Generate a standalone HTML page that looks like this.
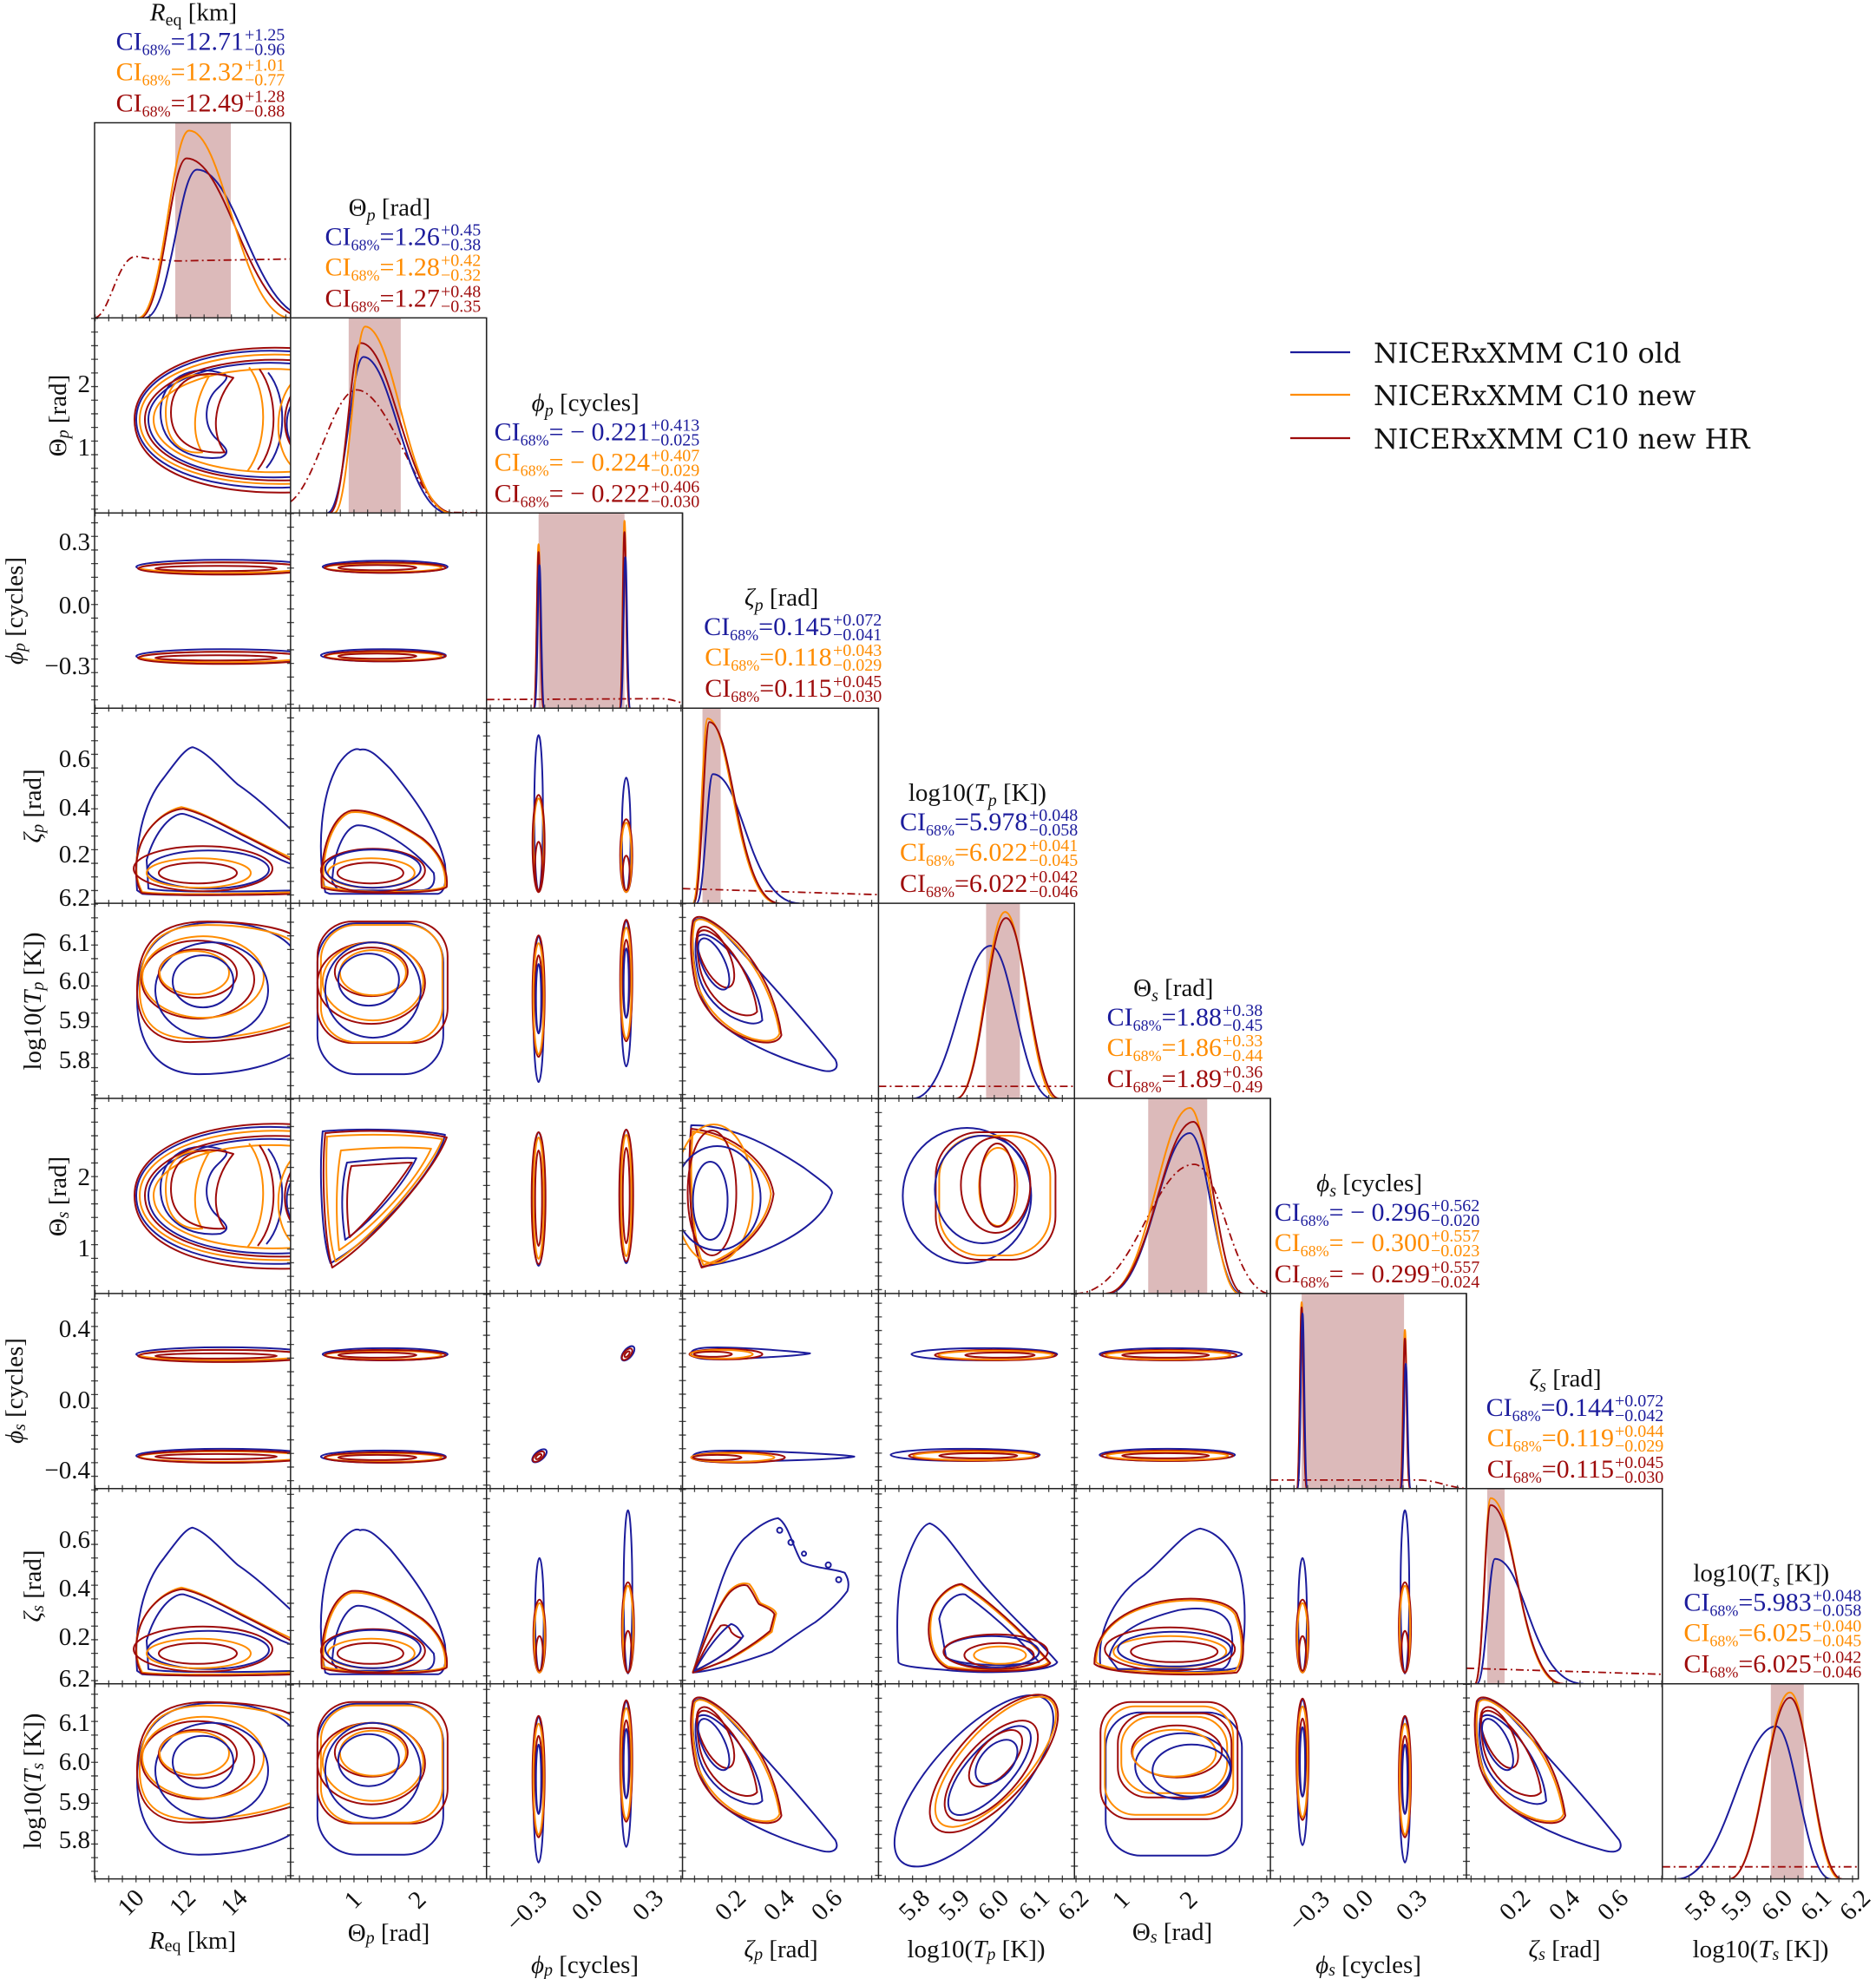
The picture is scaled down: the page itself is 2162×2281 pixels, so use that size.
<!DOCTYPE html>
<html><head><meta charset="utf-8"><style>
html,body{margin:0;padding:0;background:#fff;}
svg{display:block;}
.b,.o,.r,.p{fill:none;stroke-width:2;stroke-linejoin:round;}
.b{stroke:#1c1c9c;} .o{stroke:#ff8c00;} .r{stroke:#9e0b0b;}
.p{stroke:#9e0b0b;stroke-dasharray:9 4 2 4;stroke-width:1.8;}
.fr{fill:none;stroke:#222;stroke-width:1.5;}
.tk{stroke:#444;stroke-width:8;stroke-dasharray:1.3 14.4;}
.band{fill:#dcbaba;}
text{font-family:"Liberation Serif",serif;}
.ci{font-size:30px;}
.ss{font-size:20px;}
.t{font-size:29px;fill:#111;}
.tl{font-size:29px;fill:#111;}
.lg{font-family:"DejaVu Serif","Liberation Serif",serif;font-size:32px;fill:#111;}
</style></head><body>
<svg width="2162" height="2281" viewBox="0 0 2162 2281" xmlns="http://www.w3.org/2000/svg">
<defs>
<clipPath id="cp"><rect x="0" y="0" width="226" height="225"/></clipPath>
<g id="kid">
 <path class="b" d="M232,34 C130,26 48,60 48,112 C48,166 130,196 232,190"/>
 <path class="b" d="M232,48 C135,40 62,72 62,112 C62,156 135,184 232,178"/>
 <path class="b" d="M150,60 C110,46 76,66 76,104 C76,142 110,160 145,156 C160,150 148,142 138,132 C124,115 128,90 140,78 C148,70 156,64 150,60 Z"/>
 <path class="b" d="M200,58 C222,85 222,140 198,168"/>
 <path class="b" d="M232,90 C218,100 218,135 232,145"/>
 <path class="o" d="M232,38 C130,32 52,64 52,112 C52,162 130,190 232,186"/>
 <path class="o" d="M232,55 C140,48 68,76 68,112 C68,152 140,178 232,172"/>
 <path class="o" d="M132,62 C100,56 82,72 82,104 C82,138 100,152 124,150 C112,130 112,96 132,62 Z"/>
 <path class="o" d="M178,52 C200,80 200,140 176,172"/>
 <path class="o" d="M232,65 C205,90 205,150 232,170"/>
 <path class="r" d="M232,30 C125,24 46,58 46,112 C46,170 125,200 232,196"/>
 <path class="r" d="M232,44 C132,38 58,70 58,112 C58,158 132,186 232,182"/>
 <path class="r" d="M160,64 C115,50 88,70 88,104 C88,138 115,152 150,150 C135,130 135,95 160,64 Z"/>
 <path class="r" d="M190,54 C212,85 212,140 188,170"/>
 <path class="r" d="M232,75 C215,100 215,130 232,150"/>
</g>
<g id="zr">
 <path class="b" d="M49,210 C45,160 55,110 80,80 C95,60 105,46 113,45 C130,50 150,75 165,88 C190,105 210,125 232,145 L232,214 C150,216 80,216 55,214 Z"/>
 <path class="b" d="M60,175 C70,140 90,120 103,122 C125,128 165,150 215,175 L232,182 L232,210 C150,212 80,212 62,208 Z"/>
 <path class="o" d="M49,170 C55,140 80,118 100,114 C120,118 140,130 165,142 C190,155 210,165 232,175 L232,212 C150,215 80,215 55,212 C48,200 47,185 49,170 Z"/>
 <path class="r" d="M50,168 C56,138 82,117 102,116 C122,120 145,133 170,146 C195,158 212,168 232,178 L232,214 C150,216 80,216 54,213 C47,200 46,185 50,168 Z"/>
 <ellipse class="b" cx="131" cy="186" rx="70" ry="22"/>
 <ellipse class="o" cx="120" cy="190" rx="60" ry="17"/>
 <ellipse class="r" cx="125" cy="185" rx="80" ry="26"/>
 <ellipse class="r" cx="119" cy="190" rx="45" ry="12"/>
</g>
<g id="zt">
 <path class="b" d="M40,212 C30,160 35,100 55,65 C65,50 75,45 80,48 C90,45 100,55 115,70 C140,100 170,140 178,180 C180,200 178,212 170,214 L45,214 Z"/>
 <path class="b" d="M48,200 C50,160 65,135 78,135 C100,135 140,160 165,190 C168,205 160,210 150,210 L55,210 Z"/>
 <path class="o" d="M38,205 C35,165 50,125 70,120 C90,118 120,130 150,150 C170,165 180,185 178,205 C170,214 60,214 38,205 Z"/>
 <path class="r" d="M36,207 C33,165 48,123 70,118 C92,116 122,130 152,150 C172,166 182,186 180,206 C172,215 60,215 36,207 Z"/>
 <ellipse class="r" cx="95" cy="187" rx="60" ry="25"/>
 <ellipse class="o" cx="93" cy="190" rx="50" ry="17"/>
 <ellipse class="r" cx="92" cy="190" rx="38" ry="12"/>
 <ellipse class="b" cx="95" cy="185" rx="55" ry="22"/>
</g>
<g id="zts">
 <path class="b" d="M30,205 C25,160 50,120 80,100 C105,80 125,50 145,46 C165,50 185,70 192,102 C200,140 195,190 190,205 C180,214 50,214 30,205 Z"/>
 <path class="o" d="M25,200 C25,160 60,140 100,132 C140,125 175,130 185,145 C195,170 195,200 185,210 C150,214 40,214 25,200 Z"/>
 <path class="r" d="M23,202 C23,160 60,138 100,130 C140,123 177,128 187,144 C197,170 197,202 187,212 C150,216 40,216 23,202 Z"/>
 <path class="b" d="M40,195 C45,165 80,150 120,140 C150,135 175,140 180,160 C185,185 180,205 170,208 L50,208 Z"/>
 <ellipse class="r" cx="110" cy="185" rx="75" ry="25"/>
 <ellipse class="o" cx="110" cy="188" rx="65" ry="18"/>
 <ellipse class="r" cx="115" cy="188" rx="50" ry="12"/>
 <ellipse class="b" cx="115" cy="185" rx="65" ry="20"/>
</g>
<g id="ztl">
 <path class="b" d="M23,200 C20,150 22,110 30,90 C40,60 50,42 59,40 C75,45 95,80 120,110 C150,145 185,175 206,200 C200,212 120,214 77,209 C50,207 25,205 23,200 Z"/>
 <path class="o" d="M61,147 C65,125 85,112 95,111 C120,125 165,165 196,200 C190,210 120,212 80,205 C60,195 58,165 61,147 Z"/>
 <path class="r" d="M59,149 C63,126 84,110 96,110 C122,124 168,166 198,201 C192,211 120,213 80,207 C58,197 56,166 59,149 Z"/>
 <path class="b" d="M70,150 C75,130 90,120 100,122 C125,140 160,170 185,200 C150,205 100,205 78,195 Z"/>
 <ellipse class="r" cx="139" cy="192" rx="40" ry="14"/>
 <ellipse class="o" cx="140" cy="192" rx="30" ry="10"/>
 <ellipse class="b" cx="130" cy="188" rx="55" ry="18"/>
 <ellipse class="r" cx="135" cy="188" rx="60" ry="20"/>
</g>
<g id="tr">
 <path class="b" d="M49,110 C49,40 90,22 140,22 C190,22 226,40 232,60 L232,170 C210,185 170,197 120,197 C70,197 49,160 49,110 Z"/>
 <path class="r" d="M49,100 C49,40 80,21 130,21 C180,21 226,30 232,40 L232,140 C200,150 160,160 110,160 C70,160 49,140 49,100 Z"/>
 <path class="o" d="M52,100 C52,42 82,25 130,25 C180,25 222,35 232,48 L232,135 C200,148 160,156 112,156 C72,156 52,138 52,100 Z"/>
 <ellipse class="r" cx="119" cy="88" rx="65" ry="45"/>
 <ellipse class="o" cx="125" cy="85" rx="70" ry="47"/>
 <ellipse class="b" cx="135" cy="100" rx="65" ry="55"/>
 <ellipse class="r" cx="119" cy="81" rx="45" ry="28"/>
 <ellipse class="o" cx="115" cy="80" rx="40" ry="25"/>
 <ellipse class="b" cx="125" cy="90" rx="35" ry="30"/>
</g>
<g id="tt">
 <rect class="b" x="31" y="23" width="145" height="174" rx="45"/>
 <rect class="r" x="31" y="21" width="150" height="140" rx="40"/>
 <rect class="o" x="35" y="25" width="140" height="135" rx="40"/>
 <ellipse class="r" cx="93" cy="92" rx="62" ry="47"/>
 <ellipse class="o" cx="95" cy="90" rx="58" ry="45"/>
 <ellipse class="b" cx="95" cy="100" rx="55" ry="55"/>
 <ellipse class="r" cx="93" cy="79" rx="42" ry="28"/>
 <ellipse class="o" cx="95" cy="80" rx="38" ry="26"/>
 <ellipse class="b" cx="90" cy="88" rx="35" ry="30"/>
</g>
<g id="tt5">
 <rect class="b" x="36" y="33" width="157" height="165" rx="40"/>
 <rect class="r" x="30" y="21" width="158" height="135" rx="35"/>
 <rect class="o" x="35" y="26" width="148" height="125" rx="35"/>
 <rect class="r" x="50" y="34" width="131" height="97" rx="35"/>
 <rect class="o" x="54" y="38" width="122" height="88" rx="35"/>
 <ellipse class="b" cx="125" cy="95" rx="55" ry="38"/>
 <ellipse class="r" cx="118" cy="78" rx="52" ry="30"/>
 <ellipse class="o" cx="115" cy="80" rx="48" ry="27"/>
 <ellipse class="b" cx="135" cy="100" rx="45" ry="30"/>
</g>
<g id="tz">
 <path class="b" d="M12,25 C15,10 35,20 55,42 C95,85 140,135 176,180 C182,192 172,196 158,192 C120,182 70,162 40,135 C18,115 10,70 12,25 Z"/>
 <path class="o" d="M14,22 C20,12 40,25 62,48 C88,76 105,110 112,150 C108,160 95,160 80,156 C50,146 26,122 17,92 C11,65 10,42 14,22 Z"/>
 <path class="r" d="M12,20 C18,8 40,22 64,46 C90,74 108,110 114,152 C110,162 95,162 80,158 C48,148 24,124 15,94 C9,66 8,42 12,20 Z"/>
 <path class="b" d="M16,40 C24,30 40,40 60,62 C78,85 90,110 92,135 C85,142 70,138 55,130 C35,118 22,100 18,80 C15,65 14,52 16,40 Z"/>
 <path class="r" d="M18,35 C24,25 40,35 58,58 C74,80 84,105 86,125 C80,132 66,130 52,122 C34,110 24,92 20,75 C17,60 16,47 18,35 Z"/>
 <ellipse class="r" cx="38" cy="62" rx="16" ry="38" transform="rotate(-25 38 62)"/>
 <ellipse class="b" cx="36" cy="70" rx="13" ry="32" transform="rotate(-25 36 70)"/>
</g>
<g id="td">
 <ellipse class="b" cx="110" cy="112" rx="125" ry="50" transform="rotate(-48 110 112)"/>
 <ellipse class="r" cx="133" cy="92" rx="100" ry="42" transform="rotate(-48 133 92)"/>
 <ellipse class="o" cx="135" cy="90" rx="95" ry="38" transform="rotate(-48 135 90)"/>
 <ellipse class="r" cx="130" cy="100" rx="72" ry="32" transform="rotate(-48 130 100)"/>
 <ellipse class="b" cx="128" cy="100" rx="65" ry="26" transform="rotate(-48 128 100)"/>
 <ellipse class="r" cx="135" cy="86" rx="40" ry="20" transform="rotate(-48 135 86)"/>
 <ellipse class="b" cx="136" cy="90" rx="30" ry="18" transform="rotate(-48 136 90)"/>
</g>
<g id="tri">
 <path class="b" d="M37,38 C80,34 150,36 178,42 C170,80 100,160 46,190 C35,160 33,80 37,38 Z"/>
 <path class="r" d="M40,40 C90,35 150,38 180,45 C165,85 95,165 48,195 C38,160 36,80 40,40 Z"/>
 <path class="o" d="M42,44 C90,40 145,42 175,47 C160,85 95,160 52,188 C42,160 40,85 42,44 Z"/>
 <path class="b" d="M65,74 C100,70 130,68 145,69 C130,100 95,140 63,163 C58,130 58,100 65,74 Z"/>
 <path class="r" d="M70,78 C100,76 130,74 140,74 C120,105 90,140 68,160 C64,130 64,100 70,78 Z"/>
 <path class="o" d="M58,60 C100,56 140,56 162,58 C145,95 100,145 56,175 C52,140 52,95 58,60 Z"/>
</g>
<g id="dsh">
 <path class="b" d="M10,31 C60,30 110,60 140,80 C160,95 175,105 172,110 C160,150 90,185 22,194 C8,160 6,80 10,31 Z"/>
 <path class="r" d="M10,35 C60,40 100,75 105,110 C100,150 60,185 22,195 C8,160 6,80 10,35 Z"/>
 <path class="o" d="M12,38 C60,44 98,78 102,110 C98,148 60,182 24,192 C10,160 8,80 12,38 Z"/>
 <ellipse class="r" cx="34" cy="109" rx="28" ry="72"/>
 <ellipse class="o" cx="36" cy="110" rx="45" ry="80"/>
 <ellipse class="b" cx="40" cy="115" rx="50" ry="60"/>
 <ellipse class="b" cx="32" cy="118" rx="20" ry="45"/>
</g>
<g id="ov">
 <ellipse class="b" cx="102" cy="112" rx="74" ry="78"/>
 <rect class="r" x="66" y="39" width="138" height="147" rx="50"/>
 <rect class="o" x="70" y="43" width="128" height="138" rx="48"/>
 <ellipse class="b" cx="120" cy="105" rx="55" ry="62"/>
 <ellipse class="r" cx="135" cy="100" rx="40" ry="55"/>
 <ellipse class="o" cx="138" cy="102" rx="22" ry="45"/>
 <ellipse class="r" cx="137" cy="100" rx="20" ry="48"/>
</g>
<g id="szl">
 <ellipse class="b" cx="0" cy="121" rx="5" ry="90"/>
 <ellipse class="o" cx="0" cy="158" rx="6" ry="54"/>
 <ellipse class="r" cx="0" cy="156" rx="7" ry="56"/>
 <ellipse class="r" cx="0" cy="182" rx="4" ry="28"/>
</g>
<g id="szs">
 <ellipse class="b" cx="0" cy="146" rx="5" ry="66"/>
 <ellipse class="r" cx="0" cy="170" rx="7" ry="42"/>
 <ellipse class="o" cx="0" cy="172" rx="6" ry="40"/>
 <ellipse class="r" cx="0" cy="190" rx="4" ry="20"/>
</g>
<g id="szt">
 <ellipse class="b" cx="0" cy="119" rx="5" ry="94"/>
 <ellipse class="r" cx="0" cy="160" rx="7" ry="52"/>
 <ellipse class="o" cx="0" cy="162" rx="6" ry="50"/>
 <ellipse class="r" cx="0" cy="188" rx="4" ry="24"/>
</g>
<g id="st">
 <ellipse class="b" cx="0" cy="122" rx="6" ry="84"/>
 <ellipse class="r" cx="0" cy="107" rx="7" ry="70"/>
 <ellipse class="o" cx="0" cy="110" rx="6" ry="64"/>
 <ellipse class="r" cx="0" cy="105" rx="4" ry="45"/>
 <ellipse class="b" cx="0" cy="110" rx="3" ry="40"/>
</g>
<g id="sth">
 <ellipse class="b" cx="0" cy="116" rx="7" ry="77"/>
 <ellipse class="r" cx="0" cy="115" rx="8" ry="76"/>
 <ellipse class="o" cx="0" cy="115" rx="6" ry="70"/>
 <ellipse class="r" cx="0" cy="115" rx="4" ry="55"/>
</g>
</defs>

<rect width="2162" height="2281" fill="#fff"/>

<!-- ============ DIAGONALS ============ -->
<g transform="translate(109,141.5)" clip-path="url(#cp)">
 <rect class="band" x="93" y="0" width="64" height="225"/>
 <path class="p" d="M0,225 C18,222 26,154 48,154 C70,158 90,160 110,159 L226,157"/>
 <path class="b" d="M58,225 C88,225 97,54 118,54 C165.2,54 184,225 250,225"/>
 <path class="r" d="M52,225 C79,225 87.1,41 106,41 C154.65,41 175.5,225 245,225"/>
 <path class="o" d="M50,225 C79.5,225 88.35,9 109,9 C149.95,9 168,225 226,225"/>
</g>
<g transform="translate(334.85,366.4)" clip-path="url(#cp)">
 <rect class="band" x="67" y="0" width="60" height="225"/>
 <path class="p" d="M0,212 C30,190 50,83 76,83 C110,83 140,195 175,224 L226,225"/>
 <path class="b" d="M42,225 C63,225 69.3,45 84,45 C117.6,45 133,225 182,225"/>
 <path class="r" d="M45,225 C63,225 68.4,29 81,29 C118.45,29 134.5,225 188,225"/>
 <path class="o" d="M50,225 C68,225 73.4,10 86,10 C120.65,10 135.5,225 185,225"/>
</g>
<g transform="translate(560.7,591.3)" clip-path="url(#cp)">
 <rect class="band" x="60" y="0" width="99" height="225"/>
 <path class="p" d="M0,215 L200,214 C212,214 218,217 226,219"/>
 <path class="o" d="M54,225 C58,225 58,36 60,36 C62,36 62,225 66,225"/>
 <path class="r" d="M54,225 C58,225 58,45 60,45 C62,45 62,225 66,225"/>
 <path class="b" d="M55,225 C59,225 59,60 61,60 C63,60 63,225 67,225"/>
 <path class="o" d="M153,225 C157,225 157,9 159,9 C161,9 161,225 165,225"/>
 <path class="r" d="M153,225 C157,225 157,22 159,22 C161,22 161,225 165,225"/>
 <path class="b" d="M154,225 C158,225 158,51 160,51 C162,51 162,225 166,225"/>
</g>
<g transform="translate(786.55,816.2)" clip-path="url(#cp)">
 <rect class="band" x="23" y="0" width="21" height="225"/>
 <path class="p" d="M0,208 L226,215"/>
 <path class="b" d="M16,225 C25.5,225 28.35,76 35,76 C70,76 75.5,225 135,225"/>
 <path class="o" d="M12,225 C20.5,225 23.05,12 29,12 C56.65,12 61,225 110,225"/>
 <path class="r" d="M13,225 C22,225 24.7,16 31,16 C58.65,16 62.5,225 112,225"/>
</g>
<g transform="translate(1012.4,1041.1)" clip-path="url(#cp)">
 <rect class="band" x="124" y="0" width="39" height="225"/>
 <path class="p" d="M0,211 L226,211"/>
 <path class="b" d="M40,225 C84.5,225 97.85,49 129,49 C154.2,49 164,225 200,225"/>
 <path class="o" d="M90,225 C118,225 126.4,10 146,10 C166.65,10 177.5,225 205,225"/>
 <path class="r" d="M90,225 C118.5,225 127,17 147,17 C168,17 179,225 208,225"/>
</g>
<g transform="translate(1238.25,1266)" clip-path="url(#cp)">
 <rect class="band" x="85" y="0" width="68" height="225"/>
 <path class="p" d="M1,225 C69.5,225 90,76 138,76 C169,76 182,225 226,225"/>
 <path class="b" d="M38,225 C85.5,225 99.75,40 133,40 C153.3,40 163,225 192,225"/>
 <path class="o" d="M37,225 C85,225 99.4,11 133,11 C153.15,11 161.5,225 190,225"/>
 <path class="r" d="M36,225 C86.5,225 101.65,27 137,27 C157.3,27 166,225 195,225"/>
</g>
<g transform="translate(1464.1,1490.9)" clip-path="url(#cp)">
 <rect class="band" x="36" y="0" width="118" height="225"/>
 <path class="p" d="M0,215 L170,215 C190,215 200,222 226,225"/>
 <path class="o" d="M30,225 C34,225 34,10 36,10 C38,10 38,225 42,225"/>
 <path class="r" d="M30,225 C34,225 34,16 36,16 C38,16 38,225 42,225"/>
 <path class="b" d="M31,225 C35,225 35,23 37,23 C39,23 39,225 43,225"/>
 <path class="o" d="M149,225 C153,225 153,42 155,42 C157,42 157,225 161,225"/>
 <path class="r" d="M149,225 C153,225 153,52 155,52 C157,52 157,225 161,225"/>
 <path class="b" d="M150,225 C154,225 154,81 156,81 C158,81 158,225 162,225"/>
</g>
<g transform="translate(1689.95,1715.8)" clip-path="url(#cp)">
 <rect class="band" x="24" y="0" width="20" height="225"/>
 <path class="p" d="M0,207 L226,214"/>
 <path class="b" d="M12,225 C22.5,225 25.65,81 33,81 C68.7,81 73.5,225 135,225"/>
 <path class="o" d="M10,225 C19,225 21.7,11 28,11 C56.7,11 60,225 110,225"/>
 <path class="r" d="M10,225 C19,225 21.7,19 28,19 C57.4,19 61,225 112,225"/>
</g>
<g transform="translate(1915.8,1940.7)" clip-path="url(#cp)">
 <rect class="band" x="125" y="0" width="38" height="225"/>
 <path class="p" d="M0,211 L226,211"/>
 <path class="b" d="M17,225 C74,225 91.1,49 131,49 C152.7,49 163.5,225 194,225"/>
 <path class="o" d="M77,225 C112,225 122.5,10 147,10 C167.3,10 176,225 205,225"/>
 <path class="r" d="M77,225 C112,225 122.5,16 147,16 C168,16 177,225 207,225"/>
</g>

<!-- ============ OFF-DIAGONALS ============ -->
<g transform="translate(109,366.4)" clip-path="url(#cp)"><use href="#kid" transform="translate(0,5)"/></g>
<g transform="translate(109,591.3)" clip-path="url(#cp)">
 <ellipse class="b" cx="150" cy="62" rx="102" ry="8"/><ellipse class="o" cx="148" cy="63" rx="96" ry="6"/><ellipse class="r" cx="150" cy="64" rx="100" ry="7"/><ellipse class="r" cx="140" cy="64" rx="70" ry="3"/>
 <ellipse class="b" cx="150" cy="165" rx="102" ry="8"/><ellipse class="o" cx="148" cy="166" rx="96" ry="6"/><ellipse class="r" cx="150" cy="167" rx="100" ry="7"/><ellipse class="r" cx="140" cy="167" rx="70" ry="3"/>
</g>
<g transform="translate(334.85,591.3)" clip-path="url(#cp)">
 <ellipse class="b" cx="109" cy="62" rx="72" ry="7"/><ellipse class="o" cx="107" cy="63" rx="67" ry="5"/><ellipse class="r" cx="109" cy="63" rx="70" ry="6"/><ellipse class="r" cx="100" cy="63" rx="45" ry="3"/>
 <ellipse class="b" cx="107" cy="164" rx="72" ry="7"/><ellipse class="o" cx="107" cy="165" rx="67" ry="5"/><ellipse class="r" cx="109" cy="165" rx="70" ry="6"/><ellipse class="r" cx="100" cy="165" rx="45" ry="3"/>
</g>
<g transform="translate(109,816.2)" clip-path="url(#cp)"><use href="#zr"/></g>
<g transform="translate(334.85,816.2)" clip-path="url(#cp)"><use href="#zt"/></g>
<g transform="translate(560.7,816.2)" clip-path="url(#cp)"><use href="#szl" transform="translate(60,0)"/><use href="#szs" transform="translate(161,0)"/></g>
<g transform="translate(109,1041.1)" clip-path="url(#cp)"><use href="#tr"/></g>
<g transform="translate(334.85,1041.1)" clip-path="url(#cp)"><use href="#tt"/></g>
<g transform="translate(560.7,1041.1)" clip-path="url(#cp)"><use href="#st" transform="translate(60,0)"/><use href="#st" transform="translate(161,-18)"/></g>
<g transform="translate(786.55,1041.1)" clip-path="url(#cp)"><use href="#tz"/></g>
<g transform="translate(109,1266)" clip-path="url(#cp)"><use href="#kid"/></g>
<g transform="translate(334.85,1266)" clip-path="url(#cp)"><use href="#tri"/></g>
<g transform="translate(560.7,1266)" clip-path="url(#cp)"><use href="#sth" transform="translate(60,0)"/><use href="#sth" transform="translate(161,-3)"/></g>
<g transform="translate(786.55,1266)" clip-path="url(#cp)"><use href="#dsh"/></g>
<g transform="translate(1012.4,1266)" clip-path="url(#cp)"><use href="#ov"/></g>
<g transform="translate(109,1490.9)" clip-path="url(#cp)">
 <ellipse class="b" cx="150" cy="70" rx="102" ry="8"/><ellipse class="o" cx="148" cy="71" rx="96" ry="6"/><ellipse class="r" cx="150" cy="72" rx="100" ry="7"/><ellipse class="r" cx="140" cy="72" rx="70" ry="3"/>
 <ellipse class="b" cx="150" cy="187" rx="102" ry="8"/><ellipse class="o" cx="148" cy="188" rx="96" ry="6"/><ellipse class="r" cx="150" cy="188" rx="100" ry="7"/><ellipse class="r" cx="140" cy="188" rx="70" ry="3"/>
</g>
<g transform="translate(334.85,1490.9)" clip-path="url(#cp)">
 <ellipse class="b" cx="109" cy="70" rx="72" ry="7"/><ellipse class="o" cx="107" cy="71" rx="67" ry="5"/><ellipse class="r" cx="109" cy="71" rx="70" ry="6"/><ellipse class="r" cx="100" cy="71" rx="45" ry="3"/>
 <ellipse class="b" cx="107" cy="188" rx="72" ry="7"/><ellipse class="o" cx="107" cy="189" rx="67" ry="5"/><ellipse class="r" cx="109" cy="189" rx="70" ry="6"/><ellipse class="r" cx="100" cy="189" rx="45" ry="3"/>
</g>
<g transform="translate(560.7,1490.9)" clip-path="url(#cp)">
 <ellipse class="b" cx="163" cy="69" rx="10" ry="5" transform="rotate(-50 163 69)"/><ellipse class="r" cx="162" cy="70" rx="8" ry="4" transform="rotate(-50 162 70)"/><ellipse class="r" cx="162" cy="70" rx="4" ry="2" transform="rotate(-50 162 70)"/>
 <ellipse class="b" cx="61" cy="187" rx="10" ry="5" transform="rotate(-40 61 187)"/><ellipse class="r" cx="60" cy="188" rx="8" ry="4" transform="rotate(-40 60 188)"/><ellipse class="r" cx="60" cy="188" rx="4" ry="2" transform="rotate(-40 60 188)"/>
</g>
<g transform="translate(786.55,1490.9)" clip-path="url(#cp)">
 <path class="b" d="M10,69 C10,62 30,61 70,63 C110,65 140,68 147,69 C140,71 110,73 70,75 C30,77 10,76 10,69 Z"/>
 <ellipse class="r" cx="50" cy="70" rx="42" ry="6"/><ellipse class="o" cx="45" cy="70" rx="36" ry="5"/><ellipse class="r" cx="35" cy="70" rx="22" ry="3"/>
 <path class="b" d="M12,188 C12,181 40,180 100,182 C150,184 190,186 198,188 C190,190 150,192 100,193 C40,195 12,195 12,188 Z"/>
 <ellipse class="r" cx="64" cy="189" rx="54" ry="6"/><ellipse class="o" cx="58" cy="189" rx="48" ry="5"/><ellipse class="r" cx="40" cy="189" rx="28" ry="3"/>
</g>
<g transform="translate(1012.4,1490.9)" clip-path="url(#cp)">
 <ellipse class="b" cx="122" cy="70" rx="84" ry="7"/><ellipse class="r" cx="135" cy="71" rx="70" ry="6"/><ellipse class="o" cx="135" cy="71" rx="66" ry="5"/><ellipse class="r" cx="140" cy="71" rx="40" ry="3"/>
 <ellipse class="b" cx="100" cy="186" rx="86" ry="7"/><ellipse class="r" cx="110" cy="187" rx="75" ry="6"/><ellipse class="o" cx="110" cy="187" rx="70" ry="5"/><ellipse class="r" cx="115" cy="187" rx="45" ry="3"/>
</g>
<g transform="translate(1238.25,1490.9)" clip-path="url(#cp)">
 <ellipse class="b" cx="111" cy="70" rx="82" ry="7"/><ellipse class="r" cx="109" cy="71" rx="78" ry="6"/><ellipse class="o" cx="108" cy="71" rx="72" ry="5"/><ellipse class="r" cx="105" cy="71" rx="50" ry="3"/>
 <ellipse class="b" cx="107" cy="186" rx="78" ry="7"/><ellipse class="r" cx="107" cy="187" rx="76" ry="6"/><ellipse class="o" cx="107" cy="187" rx="70" ry="5"/><ellipse class="r" cx="105" cy="187" rx="50" ry="3"/>
</g>
<g transform="translate(109,1715.8)" clip-path="url(#cp)"><use href="#zr"/></g>
<g transform="translate(334.85,1715.8)" clip-path="url(#cp)"><use href="#zt"/></g>
<g transform="translate(560.7,1715.8)" clip-path="url(#cp)"><use href="#szs" transform="translate(61,0)"/><use href="#szt" transform="translate(163,0)"/></g>
<g transform="translate(786.55,1715.8)" clip-path="url(#cp)">
 <path class="b" d="M12,212 C25,170 38,125 47,101 C55,80 65,62 73,56 C85,45 98,36 110,34 C122,40 128,70 137,84 C150,92 175,92 187,97 C192,105 192,112 190,118 C180,132 165,145 153,154 C135,165 118,178 103,188 C70,200 35,210 12,212 Z"/>
 <circle class="b" cx="112" cy="48" r="3"/><circle class="b" cx="125" cy="62" r="3"/><circle class="b" cx="140" cy="75" r="2.5"/><circle class="b" cx="168" cy="88" r="3"/><circle class="b" cx="180" cy="105" r="3"/>
 <path class="o" d="M12,211 C25,175 40,135 54,118 C62,110 70,108 77,110 C84,118 86,128 90,132 C98,136 106,138 108,144 C106,152 104,160 103,165 C90,175 70,188 54,197 C35,204 20,209 12,211 Z"/>
 <path class="r" d="M12,212 C25,176 40,136 54,120 C62,112 70,110 75,112 C82,120 84,128 88,133 C96,137 104,140 106,145 C104,153 102,160 101,164 C88,175 68,188 52,197 C34,204 20,210 12,212 Z"/>
 <path class="r" d="M14,210 C22,190 34,170 44,158 C50,156 54,158 56,165 C60,170 66,172 68,172 C62,182 40,198 14,210 Z"/>
 <path class="b" d="M14,210 C26,188 42,166 56,156 C64,158 66,165 70,170 C60,184 36,200 14,210 Z"/>
</g>
<g transform="translate(1012.4,1715.8)" clip-path="url(#cp)"><use href="#ztl"/></g>
<g transform="translate(1238.25,1715.8)" clip-path="url(#cp)"><use href="#zts"/></g>
<g transform="translate(1464.1,1715.8)" clip-path="url(#cp)"><use href="#szs" transform="translate(37,0)"/><use href="#szt" transform="translate(155,0)"/></g>
<g transform="translate(109,1940.7)" clip-path="url(#cp)"><use href="#tr"/></g>
<g transform="translate(334.85,1940.7)" clip-path="url(#cp)"><use href="#tt"/></g>
<g transform="translate(560.7,1940.7)" clip-path="url(#cp)"><use href="#st" transform="translate(60,0)"/><use href="#st" transform="translate(161,-18)"/></g>
<g transform="translate(786.55,1940.7)" clip-path="url(#cp)"><use href="#tz"/></g>
<g transform="translate(1012.4,1940.7)" clip-path="url(#cp)"><use href="#td"/></g>
<g transform="translate(1238.25,1940.7)" clip-path="url(#cp)"><use href="#tt5"/></g>
<g transform="translate(1464.1,1940.7)" clip-path="url(#cp)"><use href="#st" transform="translate(37,-20)"/><use href="#st" transform="translate(155,0)"/></g>
<g transform="translate(1689.95,1940.7)" clip-path="url(#cp)"><use href="#tz"/></g>

<!-- ============ FRAMES + TICKS ============ -->
<g>
<line class="tk" x1="109" y1="366.4" x2="335" y2="366.4"/>
<line class="tk" x1="109" y1="591.3" x2="561" y2="591.3"/>
<line class="tk" x1="109" y1="816.2" x2="787" y2="816.2"/>
<line class="tk" x1="109" y1="1041.1" x2="1012" y2="1041.1"/>
<line class="tk" x1="109" y1="1266" x2="1238" y2="1266"/>
<line class="tk" x1="109" y1="1490.9" x2="1464" y2="1490.9"/>
<line class="tk" x1="109" y1="1715.8" x2="1690" y2="1715.8"/>
<line class="tk" x1="109" y1="1940.7" x2="1916" y2="1940.7"/>
<line class="tk" x1="109" y1="2165.6" x2="2142" y2="2165.6"/>
<line class="tk" x1="109" y1="366.4" x2="109" y2="2165.6"/>
<line class="tk" x1="334.85" y1="591.3" x2="334.85" y2="2165.6"/>
<line class="tk" x1="560.7" y1="816.2" x2="560.7" y2="2165.6"/>
<line class="tk" x1="786.55" y1="1041.1" x2="786.55" y2="2165.6"/>
<line class="tk" x1="1012.4" y1="1266" x2="1012.4" y2="2165.6"/>
<line class="tk" x1="1238.25" y1="1490.9" x2="1238.25" y2="2165.6"/>
<line class="tk" x1="1464.1" y1="1715.8" x2="1464.1" y2="2165.6"/>
<line class="tk" x1="1689.95" y1="1940.7" x2="1689.95" y2="2165.6"/>
<path class="fr" d="M109,141.5 H334.85 V366.4 H560.7 V591.3 H786.55 V816.2 H1012.4 V1041.1 H1238.25 V1266 H1464.1 V1490.9 H1689.95 V1715.8 H1915.8 V1940.7 H2141.65 V2165.6 H109 Z"/>
<path class="fr" d="M109,366.4 H334.85 M109,591.3 H560.7 M109,816.2 H786.55 M109,1041.1 H1012.4 M109,1266 H1238.25 M109,1490.9 H1464.1 M109,1715.8 H1689.95 M109,1940.7 H1915.8"/>
<path class="fr" d="M334.85,141.5 V2165.6 M560.7,366.4 V2165.6 M786.55,591.3 V2165.6 M1012.4,816.2 V2165.6 M1238.25,1041.1 V2165.6 M1464.1,1266 V2165.6 M1689.95,1490.9 V2165.6 M1915.8,1715.8 V2165.6"/>
</g>

<!-- ============ TITLES + CI ============ -->
<g>
<text class="t" x="223" y="23.5" text-anchor="middle"><tspan font-style="italic">R</tspan><tspan font-size="20" dy="6">eq</tspan><tspan dy="-6"> [km]</tspan></text>
<text class="ci" x="281" y="57.5" text-anchor="end" fill="#1c1c9c">CI<tspan font-size="18" dy="6">68%</tspan><tspan dy="-6">=12.71</tspan></text>
<text class="ss" x="282" y="46.5" fill="#1c1c9c">+1.25</text><text class="ss" x="282" y="63.5" fill="#1c1c9c">−0.96</text>
<text class="ci" x="281" y="92.5" text-anchor="end" fill="#ff8c00">CI<tspan font-size="18" dy="6">68%</tspan><tspan dy="-6">=12.32</tspan></text>
<text class="ss" x="282" y="81.5" fill="#ff8c00">+1.01</text><text class="ss" x="282" y="98.5" fill="#ff8c00">−0.77</text>
<text class="ci" x="281" y="128.5" text-anchor="end" fill="#9e0b0b">CI<tspan font-size="18" dy="6">68%</tspan><tspan dy="-6">=12.49</tspan></text>
<text class="ss" x="282" y="117.5" fill="#9e0b0b">+1.28</text><text class="ss" x="282" y="134.5" fill="#9e0b0b">−0.88</text>

<text class="t" x="448.9" y="248.4" text-anchor="middle">Θ<tspan font-size="20" dy="6" font-style="italic">p</tspan><tspan dy="-6"> [rad]</tspan></text>
<text class="ci" x="506.9" y="282.4" text-anchor="end" fill="#1c1c9c">CI<tspan font-size="18" dy="6">68%</tspan><tspan dy="-6">=1.26</tspan></text>
<text class="ss" x="508" y="271.4" fill="#1c1c9c">+0.45</text><text class="ss" x="508" y="288.4" fill="#1c1c9c">−0.38</text>
<text class="ci" x="506.9" y="317.4" text-anchor="end" fill="#ff8c00">CI<tspan font-size="18" dy="6">68%</tspan><tspan dy="-6">=1.28</tspan></text>
<text class="ss" x="508" y="306.4" fill="#ff8c00">+0.42</text><text class="ss" x="508" y="323.4" fill="#ff8c00">−0.32</text>
<text class="ci" x="506.9" y="353.4" text-anchor="end" fill="#9e0b0b">CI<tspan font-size="18" dy="6">68%</tspan><tspan dy="-6">=1.27</tspan></text>
<text class="ss" x="508" y="342.4" fill="#9e0b0b">+0.48</text><text class="ss" x="508" y="359.4" fill="#9e0b0b">−0.35</text>

<text class="t" x="674.7" y="473.3" text-anchor="middle"><tspan font-style="italic">ϕ</tspan><tspan font-size="20" dy="6" font-style="italic">p</tspan><tspan dy="-6"> [cycles]</tspan></text>
<text class="ci" x="749" y="507.3" text-anchor="end" fill="#1c1c9c">CI<tspan font-size="18" dy="6">68%</tspan><tspan dy="-6">= − 0.221</tspan></text>
<text class="ss" x="750" y="496.3" fill="#1c1c9c">+0.413</text><text class="ss" x="750" y="513.3" fill="#1c1c9c">−0.025</text>
<text class="ci" x="749" y="542.3" text-anchor="end" fill="#ff8c00">CI<tspan font-size="18" dy="6">68%</tspan><tspan dy="-6">= − 0.224</tspan></text>
<text class="ss" x="750" y="531.3" fill="#ff8c00">+0.407</text><text class="ss" x="750" y="548.3" fill="#ff8c00">−0.029</text>
<text class="ci" x="749" y="578.3" text-anchor="end" fill="#9e0b0b">CI<tspan font-size="18" dy="6">68%</tspan><tspan dy="-6">= − 0.222</tspan></text>
<text class="ss" x="750" y="567.3" fill="#9e0b0b">+0.406</text><text class="ss" x="750" y="584.3" fill="#9e0b0b">−0.030</text>

<text class="t" x="900.6" y="698.2" text-anchor="middle"><tspan font-style="italic">ζ</tspan><tspan font-size="20" dy="6" font-style="italic">p</tspan><tspan dy="-6"> [rad]</tspan></text>
<text class="ci" x="958.6" y="732.2" text-anchor="end" fill="#1c1c9c">CI<tspan font-size="18" dy="6">68%</tspan><tspan dy="-6">=0.145</tspan></text>
<text class="ss" x="960" y="721.2" fill="#1c1c9c">+0.072</text><text class="ss" x="960" y="738.2" fill="#1c1c9c">−0.041</text>
<text class="ci" x="958.6" y="767.2" text-anchor="end" fill="#ff8c00">CI<tspan font-size="18" dy="6">68%</tspan><tspan dy="-6">=0.118</tspan></text>
<text class="ss" x="960" y="756.2" fill="#ff8c00">+0.043</text><text class="ss" x="960" y="773.2" fill="#ff8c00">−0.029</text>
<text class="ci" x="958.6" y="803.2" text-anchor="end" fill="#9e0b0b">CI<tspan font-size="18" dy="6">68%</tspan><tspan dy="-6">=0.115</tspan></text>
<text class="ss" x="960" y="792.2" fill="#9e0b0b">+0.045</text><text class="ss" x="960" y="809.2" fill="#9e0b0b">−0.030</text>

<text class="t" x="1126.4" y="923.1" text-anchor="middle">log10(<tspan font-style="italic">T</tspan><tspan font-size="20" dy="6" font-style="italic">p</tspan><tspan dy="-6"> [K])</tspan></text>
<text class="ci" x="1184.4" y="957.1" text-anchor="end" fill="#1c1c9c">CI<tspan font-size="18" dy="6">68%</tspan><tspan dy="-6">=5.978</tspan></text>
<text class="ss" x="1186" y="946.1" fill="#1c1c9c">+0.048</text><text class="ss" x="1186" y="963.1" fill="#1c1c9c">−0.058</text>
<text class="ci" x="1184.4" y="992.1" text-anchor="end" fill="#ff8c00">CI<tspan font-size="18" dy="6">68%</tspan><tspan dy="-6">=6.022</tspan></text>
<text class="ss" x="1186" y="981.1" fill="#ff8c00">+0.041</text><text class="ss" x="1186" y="998.1" fill="#ff8c00">−0.045</text>
<text class="ci" x="1184.4" y="1028.1" text-anchor="end" fill="#9e0b0b">CI<tspan font-size="18" dy="6">68%</tspan><tspan dy="-6">=6.022</tspan></text>
<text class="ss" x="1186" y="1017.1" fill="#9e0b0b">+0.042</text><text class="ss" x="1186" y="1034.1" fill="#9e0b0b">−0.046</text>

<text class="t" x="1352.3" y="1148" text-anchor="middle">Θ<tspan font-size="20" dy="6" font-style="italic">s</tspan><tspan dy="-6"> [rad]</tspan></text>
<text class="ci" x="1408" y="1182" text-anchor="end" fill="#1c1c9c">CI<tspan font-size="18" dy="6">68%</tspan><tspan dy="-6">=1.88</tspan></text>
<text class="ss" x="1409" y="1171" fill="#1c1c9c">+0.38</text><text class="ss" x="1409" y="1188" fill="#1c1c9c">−0.45</text>
<text class="ci" x="1408" y="1217" text-anchor="end" fill="#ff8c00">CI<tspan font-size="18" dy="6">68%</tspan><tspan dy="-6">=1.86</tspan></text>
<text class="ss" x="1409" y="1206" fill="#ff8c00">+0.33</text><text class="ss" x="1409" y="1223" fill="#ff8c00">−0.44</text>
<text class="ci" x="1408" y="1253" text-anchor="end" fill="#9e0b0b">CI<tspan font-size="18" dy="6">68%</tspan><tspan dy="-6">=1.89</tspan></text>
<text class="ss" x="1409" y="1242" fill="#9e0b0b">+0.36</text><text class="ss" x="1409" y="1259" fill="#9e0b0b">−0.49</text>

<text class="t" x="1578.1" y="1372.9" text-anchor="middle"><tspan font-style="italic">ϕ</tspan><tspan font-size="20" dy="6" font-style="italic">s</tspan><tspan dy="-6"> [cycles]</tspan></text>
<text class="ci" x="1648" y="1406.9" text-anchor="end" fill="#1c1c9c">CI<tspan font-size="18" dy="6">68%</tspan><tspan dy="-6">= − 0.296</tspan></text>
<text class="ss" x="1649" y="1395.9" fill="#1c1c9c">+0.562</text><text class="ss" x="1649" y="1412.9" fill="#1c1c9c">−0.020</text>
<text class="ci" x="1648" y="1441.9" text-anchor="end" fill="#ff8c00">CI<tspan font-size="18" dy="6">68%</tspan><tspan dy="-6">= − 0.300</tspan></text>
<text class="ss" x="1649" y="1430.9" fill="#ff8c00">+0.557</text><text class="ss" x="1649" y="1447.9" fill="#ff8c00">−0.023</text>
<text class="ci" x="1648" y="1477.9" text-anchor="end" fill="#9e0b0b">CI<tspan font-size="18" dy="6">68%</tspan><tspan dy="-6">= − 0.299</tspan></text>
<text class="ss" x="1649" y="1466.9" fill="#9e0b0b">+0.557</text><text class="ss" x="1649" y="1483.9" fill="#9e0b0b">−0.024</text>

<text class="t" x="1804" y="1597.8" text-anchor="middle"><tspan font-style="italic">ζ</tspan><tspan font-size="20" dy="6" font-style="italic">s</tspan><tspan dy="-6"> [rad]</tspan></text>
<text class="ci" x="1860" y="1631.8" text-anchor="end" fill="#1c1c9c">CI<tspan font-size="18" dy="6">68%</tspan><tspan dy="-6">=0.144</tspan></text>
<text class="ss" x="1861" y="1620.8" fill="#1c1c9c">+0.072</text><text class="ss" x="1861" y="1637.8" fill="#1c1c9c">−0.042</text>
<text class="ci" x="1860" y="1666.8" text-anchor="end" fill="#ff8c00">CI<tspan font-size="18" dy="6">68%</tspan><tspan dy="-6">=0.119</tspan></text>
<text class="ss" x="1861" y="1655.8" fill="#ff8c00">+0.044</text><text class="ss" x="1861" y="1672.8" fill="#ff8c00">−0.029</text>
<text class="ci" x="1860" y="1702.8" text-anchor="end" fill="#9e0b0b">CI<tspan font-size="18" dy="6">68%</tspan><tspan dy="-6">=0.115</tspan></text>
<text class="ss" x="1861" y="1691.8" fill="#9e0b0b">+0.045</text><text class="ss" x="1861" y="1708.8" fill="#9e0b0b">−0.030</text>

<text class="t" x="2029.8" y="1822.7" text-anchor="middle">log10(<tspan font-style="italic">T</tspan><tspan font-size="20" dy="6" font-style="italic">s</tspan><tspan dy="-6"> [K])</tspan></text>
<text class="ci" x="2087.8" y="1856.7" text-anchor="end" fill="#1c1c9c">CI<tspan font-size="18" dy="6">68%</tspan><tspan dy="-6">=5.983</tspan></text>
<text class="ss" x="2089" y="1845.7" fill="#1c1c9c">+0.048</text><text class="ss" x="2089" y="1862.7" fill="#1c1c9c">−0.058</text>
<text class="ci" x="2087.8" y="1891.7" text-anchor="end" fill="#ff8c00">CI<tspan font-size="18" dy="6">68%</tspan><tspan dy="-6">=6.025</tspan></text>
<text class="ss" x="2089" y="1880.7" fill="#ff8c00">+0.040</text><text class="ss" x="2089" y="1897.7" fill="#ff8c00">−0.045</text>
<text class="ci" x="2087.8" y="1927.7" text-anchor="end" fill="#9e0b0b">CI<tspan font-size="18" dy="6">68%</tspan><tspan dy="-6">=6.025</tspan></text>
<text class="ss" x="2089" y="1916.7" fill="#9e0b0b">+0.042</text><text class="ss" x="2089" y="1933.7" fill="#9e0b0b">−0.046</text>
</g>

<!-- ============ Y TICK LABELS ============ -->
<g class="tl" text-anchor="end" dominant-baseline="central">
<text class="tl" x="104" y="443">2</text><text class="tl" x="104" y="516">1</text>
<text class="tl" x="104" y="625">0.3</text><text class="tl" x="104" y="698">0.0</text><text class="tl" x="104" y="768">−0.3</text>
<text class="tl" x="104" y="875">0.6</text><text class="tl" x="104" y="931">0.4</text><text class="tl" x="104" y="985">0.2</text><text class="tl" x="104" y="1035">6.2</text>
<text class="tl" x="104" y="1087">6.1</text><text class="tl" x="104" y="1131">6.0</text><text class="tl" x="104" y="1176">5.9</text><text class="tl" x="104" y="1222">5.8</text>
<text class="tl" x="104" y="1357">2</text><text class="tl" x="104" y="1439">1</text>
<text class="tl" x="104" y="1532">0.4</text><text class="tl" x="104" y="1614">0.0</text><text class="tl" x="104" y="1695">−0.4</text>
<text class="tl" x="104" y="1775">0.6</text><text class="tl" x="104" y="1831">0.4</text><text class="tl" x="104" y="1887">0.2</text><text class="tl" x="104" y="1935">6.2</text>
<text class="tl" x="104" y="1986">6.1</text><text class="tl" x="104" y="2031">6.0</text><text class="tl" x="104" y="2077">5.9</text><text class="tl" x="104" y="2121">5.8</text>
</g>

<!-- ============ Y AXIS LABELS ============ -->
<g class="t" text-anchor="middle" dominant-baseline="central">
<text class="t" transform="translate(67,479) rotate(-90)">Θ<tspan font-size="20" dy="6" font-style="italic">p</tspan><tspan dy="-6"> [rad]</tspan></text>
<text class="t" transform="translate(17,704) rotate(-90)"><tspan font-style="italic">ϕ</tspan><tspan font-size="20" dy="6" font-style="italic">p</tspan><tspan dy="-6"> [cycles]</tspan></text>
<text class="t" transform="translate(38,929) rotate(-90)"><tspan font-style="italic">ζ</tspan><tspan font-size="20" dy="6" font-style="italic">p</tspan><tspan dy="-6"> [rad]</tspan></text>
<text class="t" transform="translate(38,1154) rotate(-90)">log10(<tspan font-style="italic">T</tspan><tspan font-size="20" dy="6" font-style="italic">p</tspan><tspan dy="-6"> [K])</tspan></text>
<text class="t" transform="translate(67,1379) rotate(-90)">Θ<tspan font-size="20" dy="6" font-style="italic">s</tspan><tspan dy="-6"> [rad]</tspan></text>
<text class="t" transform="translate(17,1603) rotate(-90)"><tspan font-style="italic">ϕ</tspan><tspan font-size="20" dy="6" font-style="italic">s</tspan><tspan dy="-6"> [cycles]</tspan></text>
<text class="t" transform="translate(38,1828) rotate(-90)"><tspan font-style="italic">ζ</tspan><tspan font-size="20" dy="6" font-style="italic">s</tspan><tspan dy="-6"> [rad]</tspan></text>
<text class="t" transform="translate(38,2053) rotate(-90)">log10(<tspan font-style="italic">T</tspan><tspan font-size="20" dy="6" font-style="italic">s</tspan><tspan dy="-6"> [K])</tspan></text>
</g>

<!-- ============ X TICK LABELS ============ -->
<g text-anchor="middle" dominant-baseline="central">
<text class="tl" transform="translate(151,2193) rotate(-45)">10</text>
<text class="tl" transform="translate(210.5,2193) rotate(-45)">12</text>
<text class="tl" transform="translate(270,2193) rotate(-45)">14</text>
<text class="tl" transform="translate(407,2190) rotate(-45)">1</text>
<text class="tl" transform="translate(481,2190) rotate(-45)">2</text>
<text class="tl" transform="translate(607,2203) rotate(-45)">−0.3</text>
<text class="tl" transform="translate(677,2196) rotate(-45)">0.0</text>
<text class="tl" transform="translate(747,2196) rotate(-45)">0.3</text>
<text class="tl" transform="translate(842,2196) rotate(-45)">0.2</text>
<text class="tl" transform="translate(898,2196) rotate(-45)">0.4</text>
<text class="tl" transform="translate(953,2196) rotate(-45)">0.6</text>
<text class="tl" transform="translate(1054,2196) rotate(-45)">5.8</text>
<text class="tl" transform="translate(1100,2196) rotate(-45)">5.9</text>
<text class="tl" transform="translate(1145,2196) rotate(-45)">6.0</text>
<text class="tl" transform="translate(1192,2196) rotate(-45)">6.1</text>
<text class="tl" transform="translate(1237,2196) rotate(-45)">6.2</text>
<text class="tl" transform="translate(1292,2190) rotate(-45)">1</text>
<text class="tl" transform="translate(1370,2190) rotate(-45)">2</text>
<text class="tl" transform="translate(1509,2203) rotate(-45)">−0.3</text>
<text class="tl" transform="translate(1565,2196) rotate(-45)">0.0</text>
<text class="tl" transform="translate(1627,2196) rotate(-45)">0.3</text>
<text class="tl" transform="translate(1746,2196) rotate(-45)">0.2</text>
<text class="tl" transform="translate(1803,2196) rotate(-45)">0.4</text>
<text class="tl" transform="translate(1859,2196) rotate(-45)">0.6</text>
<text class="tl" transform="translate(1960,2196) rotate(-45)">5.8</text>
<text class="tl" transform="translate(2002,2196) rotate(-45)">5.9</text>
<text class="tl" transform="translate(2048,2196) rotate(-45)">6.0</text>
<text class="tl" transform="translate(2093,2196) rotate(-45)">6.1</text>
<text class="tl" transform="translate(2138,2196) rotate(-45)">6.2</text>
</g>

<!-- ============ X AXIS LABELS ============ -->
<g text-anchor="middle" dominant-baseline="central">
<text class="t" x="222" y="2237"><tspan font-style="italic">R</tspan><tspan font-size="20" dy="6">eq</tspan><tspan dy="-6"> [km]</tspan></text>
<text class="t" x="448" y="2228">Θ<tspan font-size="20" dy="6" font-style="italic">p</tspan><tspan dy="-6"> [rad]</tspan></text>
<text class="t" x="674" y="2265"><tspan font-style="italic">ϕ</tspan><tspan font-size="20" dy="6" font-style="italic">p</tspan><tspan dy="-6"> [cycles]</tspan></text>
<text class="t" x="900" y="2247"><tspan font-style="italic">ζ</tspan><tspan font-size="20" dy="6" font-style="italic">p</tspan><tspan dy="-6"> [rad]</tspan></text>
<text class="t" x="1125" y="2247">log10(<tspan font-style="italic">T</tspan><tspan font-size="20" dy="6" font-style="italic">p</tspan><tspan dy="-6"> [K])</tspan></text>
<text class="t" x="1351" y="2227">Θ<tspan font-size="20" dy="6" font-style="italic">s</tspan><tspan dy="-6"> [rad]</tspan></text>
<text class="t" x="1577" y="2265"><tspan font-style="italic">ϕ</tspan><tspan font-size="20" dy="6" font-style="italic">s</tspan><tspan dy="-6"> [cycles]</tspan></text>
<text class="t" x="1803" y="2247"><tspan font-style="italic">ζ</tspan><tspan font-size="20" dy="6" font-style="italic">s</tspan><tspan dy="-6"> [rad]</tspan></text>
<text class="t" x="2029" y="2247">log10(<tspan font-style="italic">T</tspan><tspan font-size="20" dy="6" font-style="italic">s</tspan><tspan dy="-6"> [K])</tspan></text>
</g>

<!-- ============ LEGEND ============ -->
<line x1="1487" y1="406" x2="1556" y2="406" stroke="#1c1c9c" stroke-width="2.2"/>
<line x1="1487" y1="455" x2="1556" y2="455" stroke="#ff8c00" stroke-width="2.2"/>
<line x1="1487" y1="505" x2="1556" y2="505" stroke="#9e0b0b" stroke-width="2.2"/>
<text class="lg" x="1583" y="418">NICERxXMM C10 old</text>
<text class="lg" x="1583" y="467">NICERxXMM C10 new</text>
<text class="lg" x="1583" y="517">NICERxXMM C10 new HR</text>
</svg>
</body></html>
